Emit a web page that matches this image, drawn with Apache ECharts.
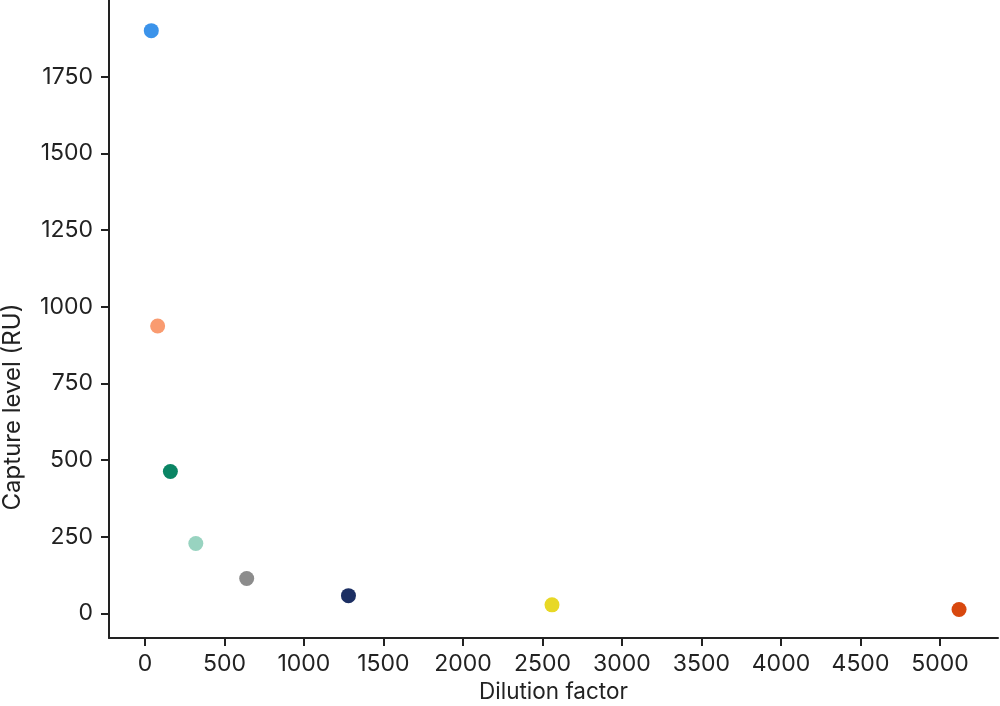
<!DOCTYPE html>
<html>
<head>
<meta charset="utf-8">
<script src="https://cdn.jsdelivr.net/npm/echarts@6/dist/echarts.min.js"></script>
<style>html,body{margin:0;padding:0;background:#fff}#c{width:1000px;height:706px}</style>
</head>
<body>
<div id="c"></div>
<script>
const dilution = [40, 80, 160, 320, 640, 1280, 2560, 5120];
const capture = [1900, 937, 463, 228, 114, 58, 28, 13];
const pointColors = ['#3b93ea', '#f99b70', '#0a8564', '#98d3c0', '#8c8c8c', '#1c2f63', '#e8d826', '#d8480e'];
const xTicks = [0, 500, 1000, 1500, 2000, 2500, 3000, 3500, 4000, 4500, 5000];
const yTicks = [0, 250, 500, 750, 1000, 1250, 1500, 1750];

const font = 'Inter, "Noto Sans", sans-serif';
const chart = echarts.init(document.getElementById('c'), null, {renderer: 'canvas'});
chart.setOption({
  animation: false,
  grid: {left: 109, right: 2, top: 0, bottom: 68, containLabel: false, outerBoundsMode: 'none'},
  xAxis: {
    type: 'value', min: -226, max: 5365,
    name: 'Dilution factor', nameLocation: 'middle', nameGap: 42,
    nameTextStyle: {fontFamily: font, fontSize: 22.5, color: '#222'},
    splitLine: {show: false},
    axisLine: {show: true, onZero: false, lineStyle: {color: '#222', width: 2}},
    axisTick: {show: true, length: 8, lineStyle: {color: '#222', width: 2}, customValues: xTicks},
    axisLabel: {fontFamily: font, fontSize: 23, color: '#222', margin: 15, customValues: xTicks, formatter: v => String(v)}
  },
  yAxis: {
    type: 'value', min: -80, max: 2000,
    name: 'Capture level (RU)', nameLocation: 'middle', nameGap: 84,
    nameTextStyle: {fontFamily: font, fontSize: 24, color: '#222', padding: [0, 176, 0, 0]},
    splitLine: {show: false},
    axisLine: {show: true, onZero: false, lineStyle: {color: '#222', width: 2}},
    axisTick: {show: true, length: 8, lineStyle: {color: '#222', width: 2}, customValues: yTicks},
    axisLabel: {fontFamily: font, fontSize: 23, color: '#222', margin: 16, customValues: yTicks, formatter: v => String(v)}
  },
  series: [{
    type: 'scatter',
    symbol: 'circle',
    symbolSize: 15,
    data: dilution.map((d, i) => ({value: [d, capture[i]], itemStyle: {color: pointColors[i], opacity: 1}}))
  }]
});
</script>
</body>
</html>
